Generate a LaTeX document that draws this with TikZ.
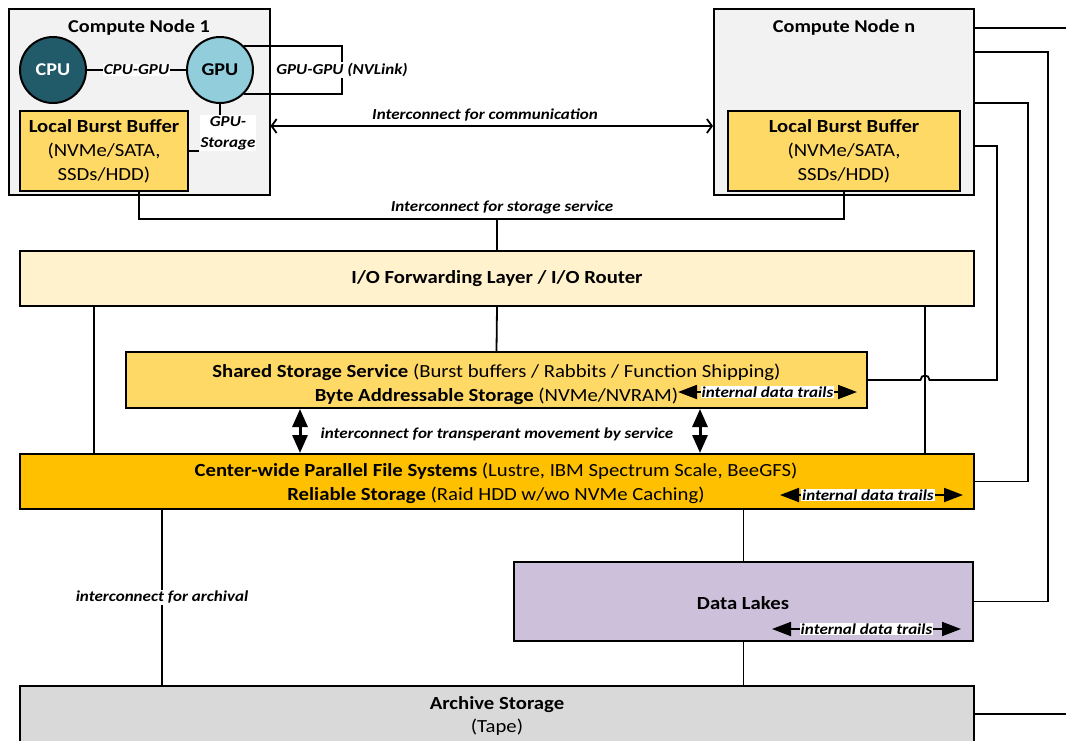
\documentclass[tikz,border=0pt]{standalone}
\usepackage{fontspec}
\setmainfont[FakeStretch=1.12]{Carlito}
\usetikzlibrary{arrows.meta,calc}
\definecolor{cnfill}{HTML}{F2F2F2}
\definecolor{cpufill}{HTML}{215A69}
\definecolor{gpufill}{HTML}{92CDDC}
\definecolor{lbbfill}{HTML}{FFD966}
\definecolor{iofill}{HTML}{FFF2CC}
\definecolor{pfsfill}{HTML}{FFC000}
\definecolor{dlfill}{HTML}{CCC0DA}
\definecolor{arfill}{HTML}{D9D9D9}
\newcommand{\mainfs}{\fontsize{18.5}{23.8}\selectfont}
\newcommand{\ttlfs}{\fontsize{18.1}{22}\selectfont\bfseries}
\newcommand{\lblfs}{\fontsize{15.2}{16.5}\selectfont\bfseries\itshape}
\begin{document}
\begin{tikzpicture}[x=1pt,y=-1pt,
  box/.style={draw, line width=2pt, inner sep=0pt, align=center, font=\mainfs},
  conn/.style={line width=1.8pt},
  lbl/.style={font=\lblfs, fill=white, inner sep=1pt, align=center},
  ttl/.style={font=\ttlfs},
  trail/.style={line width=1.8pt, {Triangle[length=19pt,width=14pt]}-{Triangle[length=19pt,width=14pt]}},
  bigarrow/.style={line width=3pt, {Triangle[length=18pt,width=15pt]}-{Triangle[length=18pt,width=15pt]}},
  comm/.style={line width=1.8pt, {Straight Barb[length=5pt,width=14pt]}-{Straight Barb[length=5pt,width=14pt]}},
  proc/.style={circle, draw, line width=2pt, minimum size=66pt, inner sep=0pt, font=\fontsize{18}{20}\selectfont\bfseries}
]
\useasboundingbox (0,0) rectangle (1066,740);
\clip (0,0) rectangle (1066,740);

% ---------- Compute node 1 ----------
\node[box, fill=cnfill, minimum width=261pt, minimum height=186pt] (cn1) at (139,102) {};
\node[ttl] (cn1t) at (139,28) {Compute Node 1};
\node[proc, fill=cpufill, text=white] (cpu) at (53,70) {CPU};
\node[proc, fill=gpufill] (gpu) at (220,70) {GPU};
\node[box, fill=lbbfill, minimum width=168pt, minimum height=80pt] (lbb1) at (104,151)
  {\textbf{Local Burst Buffer}\\(NVMe/SATA,\\SSDs/HDD)};
\draw[conn] (cpu) -- (gpu) node[midway, lbl] {CPU-GPU};
\draw[conn] (gpu.45) -- ++(98,0) |- (gpu.-45) node[pos=0.25, lbl] {GPU-GPU (NVLink)};
\node[lbl, font=\fontsize{15.2}{21}\selectfont\bfseries\itshape] (gs) at (228,133) {GPU-\\Storage};
\draw[conn] (gpu.south) -- (gpu.south |- gs.north);
\draw[conn] (lbb1.east) -- (lbb1.east -| gs.west);

% ---------- Compute node n ----------
\node[box, fill=cnfill, minimum width=260pt, minimum height=186pt] (cnn) at (844,102) {};
\node[ttl] (cnnt) at (844,28) {Compute Node n};
\node[box, fill=lbbfill, minimum width=232pt, minimum height=80pt] (lbbn) at (844,151)
  {\textbf{Local Burst Buffer}\\(NVMe/SATA,\\SSDs/HDD)};

% communication
\coordinate (cy) at (0,126);
\draw[comm] (cn1.east |- cy) -- (cnn.west |- cy);
\node[font=\lblfs] (cml) at (485,115) {Interconnect for communication};

% ---------- layers ----------
\node[box, fill=iofill, minimum width=954pt, minimum height=55pt] (io) at (497,278.5)
  {\textbf{I/O Forwarding Layer / I/O Router}};
\node[box, fill=lbbfill, minimum width=741pt, minimum height=56pt] (sh) at (496.5,380) {};
\node[font=\mainfs, align=center] (sht) at (496.5,384.5)
  {\textbf{Shared Storage Service} (Burst buffers / Rabbits / Function Shipping)\\
   \textbf{Byte Addressable Storage} (NVMe/NVRAM)};
\node[box, fill=pfsfill, minimum width=954pt, minimum height=55pt] (pfs) at (497,481.5) {};
\node[font=\mainfs, align=center] (pfst) at (496,483)
  {\textbf{Center-wide Parallel File Systems} (Lustre, IBM Spectrum Scale, BeeGFS)\\
   \textbf{Reliable Storage} (Raid HDD w/wo NVMe Caching)};
\node[box, fill=dlfill, minimum width=459pt, minimum height=79pt] (dl) at (743.5,601.5) {};
\node[font=\mainfs\bfseries] (dlt) at (743,603) {Data Lakes};
\node[box, fill=arfill, minimum width=954pt, minimum height=80pt] (ar) at (497,726) {};
\node[font=\mainfs, align=center] (art) at (497,716) {\textbf{Archive Storage}\\(Tape)};

% storage service bus
\coordinate (sL) at (139,219);
\draw[conn] (lbb1.south -| sL) |- (lbbn.south |- sL) -- (lbbn.south);
\draw[conn] (io.north |- sL) -- (io.north);
\node[font=\lblfs] (ssl) at (502,207) {Interconnect for storage service};

% IO to layers
\coordinate (xa) at (94,0);
\coordinate (xb) at (925,0);
\draw[conn] (io.south -| xa) -- (pfs.north -| xa);
\draw[conn] (io.south) -- (sh.north);
\draw[conn] (io.south -| xb) -- (pfs.north -| xb);

% transparent movement
\coordinate (t1) at (300,0);
\coordinate (t2) at (700,0);
\draw[bigarrow] (sh.south -| t1) -- (pfs.north -| t1);
\draw[bigarrow] (sh.south -| t2) -- (pfs.north -| t2);
\node[font=\lblfs] (tml) at (497,434) {interconnect for transperant movement by service};

% internal data trails
\coordinate (a1) at (678,392);
\coordinate (b1) at (857,392);
\draw[trail] (a1) -- (b1) node[midway, lbl] {internal data trails};
\coordinate (a2) at (780,495);
\coordinate (b2) at (963,495);
\draw[trail] (a2) -- (b2) node[pos=0.48, lbl] {internal data trails};
\coordinate (a3) at (772,629);
\coordinate (b3) at (961,629);
\draw[trail] (a3) -- (b3) node[midway, lbl] {internal data trails};

% archival and data lakes
\coordinate (xc) at (162,0);
\draw[conn] (pfs.south -| xc) -- (ar.north -| xc) node[midway, lbl] {interconnect for archival};
\draw[conn] (pfs.south -| dl.north) -- (dl.north);
\draw[conn] (dl.south) -- (ar.north -| dl.south);

% right-hand links
\coordinate (r1) at (1066,28);
\coordinate (r2) at (1048,52);
\coordinate (r3) at (1028,103);
\coordinate (r4) at (997,146);
\coordinate (r5) at (1066,714);
\coordinate (hop) at (925,380);
\draw[conn] (cnn.east |- r1) -- (r1);
\draw[conn] (cnn.east |- r2) -- (r2) |- (dl.east);
\draw[conn] (cnn.east |- r3) -- (r3) |- (pfs.east);
\draw[conn] (cnn.east |- r4) -- (r4) |- ($(hop)+(4.5,0)$)
  .. controls ($(hop)+(4.5,-6)$) and ($(hop)+(-4.5,-6)$) .. ($(hop)+(-4.5,0)$) -- (sh.east);
\draw[conn] (ar.east |- r5) -- (r5);
\end{tikzpicture}
\end{document}
